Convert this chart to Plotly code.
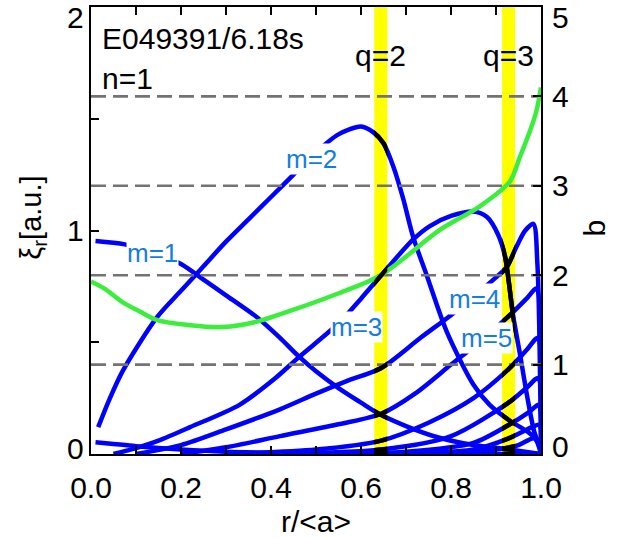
import plotly.graph_objects as go

# ---------------- data ----------------
# radial coordinate r/<a> and mode amplitudes xi_r [a.u.] (left axis)
m0_r = [0.01, 0.05, 0.1, 0.2, 0.3, 0.45, 0.6, 1.0]
m0_v = [0.053, 0.045, 0.035, 0.02, 0.01, 0.004, 0.0, 0.0]

m1_r = [0.01, 0.075, 0.14, 0.2, 0.25, 0.3, 0.37, 0.42, 0.46, 0.5, 0.55, 0.6, 0.64, 0.7, 0.77, 0.85, 0.93, 1.0]
m1_v = [0.953, 0.938, 0.90, 0.85, 0.78, 0.71, 0.61, 0.52, 0.44, 0.37, 0.295, 0.23, 0.18, 0.125, 0.075, 0.04, 0.02, 0.0]

m2_r = [0.016, 0.04, 0.07, 0.146, 0.2, 0.25, 0.3, 0.35, 0.4, 0.45, 0.5, 0.55, 0.6, 0.627, 0.65, 0.672, 0.694, 0.716, 0.746, 0.79, 0.85, 0.886, 0.93, 0.97, 1.0]
m2_v = [0.12, 0.24, 0.37, 0.61, 0.73, 0.84, 0.95, 1.05, 1.15, 1.25, 1.35, 1.43, 1.465, 1.44, 1.39, 1.285, 1.14, 0.97, 0.80, 0.55, 0.31, 0.22, 0.15, 0.10, 0.05]

m3_r = [0.05, 0.094, 0.15, 0.22, 0.33, 0.41, 0.46, 0.553, 0.6, 0.645, 0.716, 0.753, 0.8, 0.85, 0.88, 0.905, 0.92, 0.938, 0.953, 0.97, 0.985, 1.0]
m3_v = [0.0, 0.023, 0.06, 0.12, 0.22, 0.34, 0.43, 0.59, 0.695, 0.80, 0.96, 1.02, 1.065, 1.085, 1.06, 0.98, 0.885, 0.62, 0.45, 0.25, 0.10, 0.02]

m4_r = [0.1, 0.2, 0.3, 0.42, 0.5, 0.568, 0.645, 0.731, 0.804, 0.9, 0.924, 0.946, 0.965, 0.983, 0.992, 1.0]
m4_v = [0.0, 0.04, 0.11, 0.2, 0.27, 0.326, 0.385, 0.518, 0.628, 0.79, 0.836, 0.93, 1.0, 1.03, 0.85, 0.0]

m5_r = [0.2, 0.3, 0.42, 0.553, 0.645, 0.72, 0.8, 0.85, 0.93, 0.97, 0.99, 1.0]
m5_v = [0.0, 0.03, 0.08, 0.134, 0.18, 0.27, 0.40, 0.48, 0.62, 0.70, 0.74, 0.0]

m6_r = [0.3, 0.5, 0.645, 0.75, 0.85, 0.928, 0.97, 0.993, 1.0]
m6_v = [0.0, 0.02, 0.06, 0.14, 0.25, 0.38, 0.47, 0.52, 0.0]

m7_r = [0.4, 0.645, 0.8, 0.928, 0.97, 0.994, 1.0]
m7_v = [0.0, 0.02, 0.08, 0.23, 0.30, 0.34, 0.0]

m8_r = [0.5, 0.7, 0.85, 0.928, 0.975, 0.995, 1.0]
m8_v = [0.0, 0.01, 0.05, 0.13, 0.19, 0.22, 0.0]

m9_r = [0.6, 0.85, 0.928, 0.98, 0.996, 1.0]
m9_v = [0.0, 0.02, 0.07, 0.12, 0.13, 0.0]

m10_r = [0.7, 0.9, 0.95, 0.985, 1.0]
m10_v = [0.0, 0.02, 0.04, 0.07, 0.0]

# safety-factor-like profile (right axis, "b")
green_r = [0.0, 0.03, 0.07, 0.11, 0.146, 0.22, 0.294, 0.368, 0.442, 0.546, 0.644, 0.776, 0.864, 0.931, 0.953, 0.976, 0.99, 1.0]
green_b = [1.93, 1.85, 1.70, 1.59, 1.50, 1.44, 1.42, 1.48, 1.60, 1.79, 2.0, 2.51, 2.77, 3.05, 3.32, 3.62, 3.84, 4.1]

b_levels = [1, 2, 3, 4]
q_names = ["q=2", "q=3"]
q_r = [0.644, 0.928]
q_halfwidth = 0.0145

mode_labels = ["m=1", "m=2", "m=3", "m=4", "m=5"]
mode_label_r = [0.136, 0.489, 0.589, 0.853, 0.878]
mode_label_v = [0.90, 1.32, 0.57, 0.695, 0.52]

xtick_vals = [0.0, 0.2, 0.4, 0.6, 0.8, 1.0]
ytick_left = [0, 1, 2]
ytick_right = [0, 1, 2, 3, 4, 5]

curves = [(m0_r, m0_v), (m1_r, m1_v), (m2_r, m2_v), (m3_r, m3_v), (m4_r, m4_v),
          (m5_r, m5_v), (m6_r, m6_v), (m7_r, m7_v), (m8_r, m8_v), (m9_r, m9_v), (m10_r, m10_v)]

# ---------------- figure ----------------
FONT = "Liberation Sans, Arial, Helvetica, sans-serif"
BLUE = "rgb(0,0,255)"
LW = 4.5
fig = go.Figure()

line_style = dict(color=BLUE, width=LW, shape="spline", smoothing=0.8)

# dashed reference levels (right axis)
for b in b_levels:
    fig.add_trace(go.Scatter(x=[0, 1], y=[b, b], mode="lines", yaxis="y2",
                             line=dict(color="rgb(115,115,115)", width=2.6, dash="15px,7px"),
                             hoverinfo="skip", showlegend=False))

for r, v in curves:
    fig.add_trace(go.Scatter(x=r, y=v, mode="lines", line=line_style,
                             hoverinfo="skip", showlegend=False))

fig.add_trace(go.Scatter(x=green_r, y=green_b, mode="lines", yaxis="y2",
                         line=dict(color="rgb(60,238,60)", width=LW, shape="spline", smoothing=0.8),
                         hoverinfo="skip", showlegend=False))

# black parts of the mode curves inside the rational-surface bands (clipped sub-plots)
band_axes = ["x3", "x4"]
for ax, qr in zip(band_axes, q_r):
    for r, v in curves:
        fig.add_trace(go.Scatter(x=r, y=v, mode="lines", xaxis=ax, yaxis="y",
                                 line=dict(color="black", width=LW, shape="spline", smoothing=0.8),
                                 hoverinfo="skip", showlegend=False))

# yellow bands
shapes = []
for qr in q_r:
    shapes.append(dict(type="rect", xref="x", yref="paper", x0=qr - q_halfwidth, x1=qr + q_halfwidth,
                       y0=0, y1=1, fillcolor="rgb(255,255,0)", line=dict(width=0), layer="below"))

annotations = []
for txt, lr, lv in zip(mode_labels, mode_label_r, mode_label_v):
    annotations.append(dict(x=lr, y=lv, xref="x", yref="y", text=txt, showarrow=False,
                            font=dict(family=FONT, size=26, color="rgb(20,125,225)"),
                            bgcolor="white", borderpad=0, xanchor="center", yanchor="middle"))
for txt, qr in zip(q_names, q_r):
    annotations.append(dict(x=qr, y=(457 - 54) / 452, xref="x", yref="paper", text=txt, showarrow=False,
                            font=dict(family=FONT, size=30, color="black"),
                            xanchor="center", yanchor="middle"))

annotations.append(dict(x=(100 - 91) / 450, y=(457 - 37) / 452, xref="paper", yref="paper",
                        text="E049391/6.18s", showarrow=False, xanchor="left", yanchor="middle",
                        font=dict(family=FONT, size=30, color="black")))
annotations.append(dict(x=(100 - 91) / 450, y=(457 - 77) / 452, xref="paper", yref="paper",
                        text="n=1", showarrow=False, xanchor="left", yanchor="middle",
                        font=dict(family=FONT, size=30, color="black")))

# y tick labels (IDL-like: end labels pulled inside the axis range)
for i, t in enumerate(ytick_left):
    shift = 0
    if i == 0:
        shift = 6
    elif i == len(ytick_left) - 1:
        shift = -10
    annotations.append(dict(x=-0.012, y=t, xref="paper", yref="y", text=str(t), showarrow=False,
                            xanchor="right", yanchor="middle", yshift=shift,
                            font=dict(family=FONT, size=30, color="black")))
for i, t in enumerate(ytick_right):
    shift = 0
    if i == 0:
        shift = 8
    elif i == len(ytick_right) - 1:
        shift = -10
    annotations.append(dict(x=1.02, y=t, xref="paper", yref="y2", text=str(t), showarrow=False,
                            xanchor="left", yanchor="middle", yshift=shift,
                            font=dict(family=FONT, size=30, color="black")))

annotations.append(dict(x=(33 - 91) / 450, y=(457 - 218) / 452, xref="paper", yref="paper",
                        text="ξ<sub>r</sub>[a.u.]", textangle=-90, showarrow=False,
                        xanchor="center", yanchor="middle",
                        font=dict(family=FONT, size=29, color="black")))
annotations.append(dict(x=(595 - 91) / 450, y=(457 - 229) / 452, xref="paper", yref="paper",
                        text="b", textangle=-90, showarrow=False,
                        xanchor="center", yanchor="middle",
                        font=dict(family=FONT, size=30, color="black")))

axis_line = dict(showline=True, linecolor="black", linewidth=2, showgrid=False, zeroline=False)

fig.update_layout(
    width=617, height=538,
    margin=dict(l=91, r=76, t=5, b=81),
    paper_bgcolor="white", plot_bgcolor="rgba(0,0,0,0)",
    showlegend=False, hovermode=False,
    font=dict(family=FONT, size=30, color="black"),
    xaxis=dict(range=[0, 1], domain=[0, 1], tickvals=xtick_vals, tickformat=".1f",
               ticks="inside", ticklen=8, tickwidth=1.5, tickcolor="black", mirror="ticks",
               minor=dict(dtick=0.1, tick0=0, ticks="inside", ticklen=8, tickwidth=1.5, tickcolor="black"),
               tickfont=dict(family=FONT, size=30), ticklabelstandoff=6,
               title=dict(text="r/&lt;a&gt;", font=dict(family=FONT, size=30), standoff=8),
               **axis_line),
    yaxis=dict(range=[0, 2], domain=[0, 1], tickvals=ytick_left, showticklabels=False,
               ticks="inside", ticklen=8, tickwidth=1.5, tickcolor="black",
               minor=dict(dtick=0.5, tick0=0, ticks="inside", ticklen=8, tickwidth=1.5, tickcolor="black"),
               **axis_line),
    yaxis2=dict(range=[0, 5], overlaying="y", side="right", anchor="x", tickvals=ytick_right,
                showticklabels=False, ticks="inside", ticklen=8, tickwidth=1.5, tickcolor="black",
                **axis_line),
    xaxis3=dict(domain=[q_r[0] - q_halfwidth, q_r[0] + q_halfwidth],
                range=[q_r[0] - q_halfwidth, q_r[0] + q_halfwidth],
                anchor="y", visible=False, showgrid=False, zeroline=False),
    xaxis4=dict(domain=[q_r[1] - q_halfwidth, q_r[1] + q_halfwidth],
                range=[q_r[1] - q_halfwidth, q_r[1] + q_halfwidth],
                anchor="y", visible=False, showgrid=False, zeroline=False),
    shapes=shapes,
    annotations=annotations,
)

fig.write_html("out.html")
